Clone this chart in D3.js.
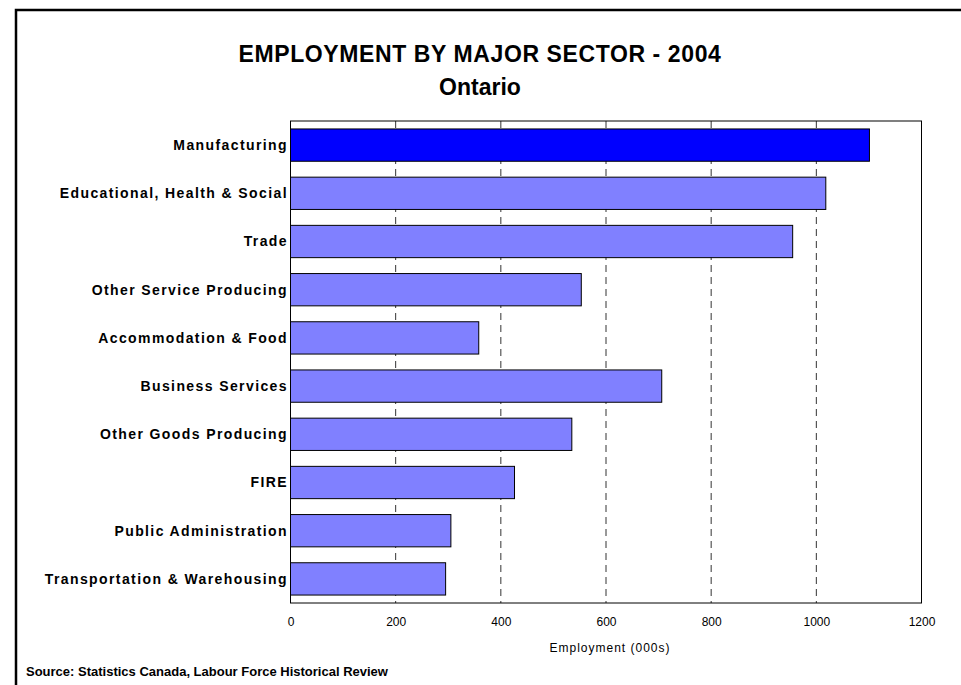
<!DOCTYPE html>
<html>
<head>
<script src="https://d3js.org/d3.v7.min.js"></script>
<style>
    body {margin: 0; background: white;}
    text {font-family: "Liberation Sans", Arial, sans-serif; fill: black;}
</style>
</head>
<body>
<svg width="961" height="685"></svg>
<script>
// values, thousands of jobs
var sectors = ["Manufacturing", "Educational, Health & Social", "Trade ", "Other Service Producing",
    "Accommodation & Food", "Business Services", "Other Goods Producing", "FIRE ",
    "Public Administration", "Transportation & Warehousing"];
var employment = [1101, 1018, 955, 553, 358, 706, 535, 426, 305, 295];
var xTicks = [0, 200, 400, 600, 800, 1000, 1200];

var svg = d3.select("svg");
var plotLeft = 290.5, plotRight = 921.5, plotTop = 121, plotBottom = 603;

var xs = d3.scaleLinear().domain([0, 1200]).range([plotLeft, plotRight]);
var ys = d3.scaleBand().domain(sectors).range([plotTop, plotBottom]).paddingInner(0.33).paddingOuter(0.165);

// outer frame, cut off at right and bottom like the original
svg.append("rect")
    .attr("x", 16).attr("y", 10)
    .attr("width", 1000).attr("height", 1000)
    .attr("fill", "none").attr("stroke", "black").attr("stroke-width", 2.5);

// title
svg.append("text")
    .attr("x", 480).attr("y", 62)
    .attr("text-anchor", "middle")
    .style("font-size", "23px").style("font-weight", "bold")
    .style("letter-spacing", "0.6px")
    .text("EMPLOYMENT BY MAJOR SECTOR - 2004");
svg.append("text")
    .attr("x", 480).attr("y", 95)
    .attr("text-anchor", "middle")
    .style("font-size", "23px").style("font-weight", "bold")
    .text("Ontario");

// dashed gridlines
svg.append("g")
    .selectAll("line")
    .data(xTicks.filter(function(d){return d > 0 && d < 1200}))
    .enter()
    .append("line")
        .attr("x1", function(d){return xs(d)})
        .attr("x2", function(d){return xs(d)})
        .attr("y1", plotTop).attr("y2", plotBottom)
        .attr("stroke", "#333")
        .attr("stroke-width", 1)
        .attr("stroke-dasharray", "7,5");

// plot frame
svg.append("rect")
    .attr("x", plotLeft).attr("y", plotTop)
    .attr("width", plotRight - plotLeft).attr("height", plotBottom - plotTop)
    .attr("fill", "none").attr("stroke", "black").attr("stroke-width", 1);

// bars
svg.append("g")
    .selectAll("rect")
    .data(employment)
    .enter()
    .append("rect")
        .attr("x", xs(0))
        .attr("y", function(d, i){return ys(sectors[i])})
        .attr("width", function(d){return xs(d) - xs(0)})
        .attr("height", ys.bandwidth())
        .attr("fill", function(d, i){return i == 0 ? "#0000ff" : "#8080ff"})
        .attr("stroke", "black")
        .attr("stroke-width", 1);

// category labels
svg.append("g")
    .selectAll("text")
    .data(sectors)
    .enter()
    .append("text")
        .attr("x", 288)
        .attr("y", function(d){return ys(d) + ys.bandwidth() / 2})
        .attr("dy", "0.35em")
        .attr("text-anchor", "end")
        .style("font-size", "14px").style("font-weight", "bold")
        .style("letter-spacing", "1.4px")
        .text(function(d){return d});

// x axis labels
var xAxis = svg.append("g")
    .attr("transform", "translate(0," + plotBottom + ")")
    .call(d3.axisBottom(xs).tickValues(xTicks).tickSize(0).tickPadding(14).tickFormat(d3.format("d")));
xAxis.select(".domain").remove();
xAxis.selectAll("text")
    .style("font-family", "'Liberation Sans', Arial, sans-serif")
    .style("font-size", "12px");

svg.append("text")
    .attr("x", 610).attr("y", 652)
    .attr("text-anchor", "middle")
    .style("font-size", "12px")
    .style("letter-spacing", "1px")
    .text("Employment (000s)");

svg.append("text")
    .attr("x", 26).attr("y", 676)
    .style("font-size", "13px").style("font-weight", "bold")
    .text("Source: Statistics Canada, Labour Force Historical Review");
</script>
</body>
</html>
